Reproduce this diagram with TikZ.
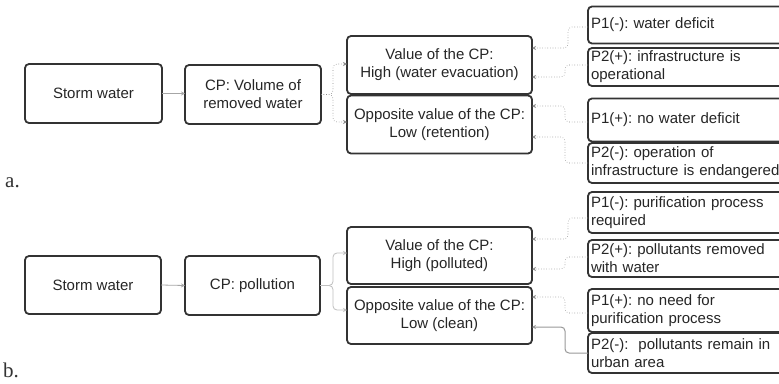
\documentclass[tikz,border=0pt]{standalone}
\usepackage{fontspec}
\setmainfont{Liberation Sans}
\newfontfamily\labelserif{Liberation Serif}
\usetikzlibrary{arrows.meta}
\frenchspacing
\begin{document}
\begin{tikzpicture}[x=1pt,y=-1pt,
  box/.style={draw=black!80, line width=1.8pt, rounded corners=4pt, fill=white,
    inner sep=2pt, outer sep=0pt, align=center, text=black!85,
    font=\fontsize{15}{18}\selectfont},
  pbox/.style={box, align=left, minimum width=210, text width=204, anchor=west},
  conn/.style={draw=black!45, line width=0.6pt, dotted, rounded corners=4pt,
    -{Stealth[length=4pt,width=4pt,open]}},
  sconn/.style={draw=black!35, line width=0.8pt, rounded corners=4pt,
    -{Stealth[length=4pt,width=4pt]}},
  figlab/.style={font=\labelserif\fontsize{21}{24}\selectfont, anchor=base west, inner sep=0pt, text=black!80}
]
\useasboundingbox (0,0) rectangle (779,383);
\clip (0,0) rectangle (779,383);
\fill[white] (0,0) rectangle (779,383);

% ---------------- part a ----------------
\node[box, minimum width=137, minimum height=59] (swa) at (93.5,93.5) {Storm water};
\node[box, minimum width=136, minimum height=59] (cpa) at (253,94.5) {CP: Volume of\\removed water};
\node[box, minimum width=185, minimum height=58] (va) at (439.5,65) {Value of the CP:\\High (water evacuation)};
\node[box, minimum width=185, minimum height=58] (oa) at (439.5,124.5) {Opposite value of the CP:\\Low (retention)};
\node[pbox, minimum height=37] (a11) at (588,25) {P1(-): water deficit};
\node[pbox, minimum height=38] (a12) at (588,67) {P2(+): infrastructure is\\operational};
\node[pbox, minimum height=43] (a21) at (588,120) {P1(+): no water deficit};
\node[pbox, minimum height=40] (a22) at (588,163) {P2(-): operation of\\infrastructure is endangered};
\node[figlab] (la) at (5,187) {a.};

\draw[sconn] (swa.east) -- (swa.east -| cpa.west);
\coordinate (ja) at (333,94.5);
\draw[conn] (cpa.east) -- (ja) |- (va.west |- 0,64);
\draw[conn] (cpa.east) -- (ja) |- (oa.west |- 0,122);
\draw[conn] (a11.west |- 0,27) -| (568,48) -- (va.east |- 0,48);
\draw[conn] (a12.west |- 0,65) -| (565,77) -- (va.east |- 0,77);
\draw[conn] (a21.west |- 0,122) -| (565,106) -- (oa.east |- 0,106);
\draw[conn] (a22.west |- 0,163) -| (565,137) -- (oa.east |- 0,137);

% ---------------- part b ----------------
\node[box, minimum width=136, minimum height=58] (swb) at (93,285) {Storm water};
\node[box, minimum width=135, minimum height=59] (cpb) at (252.5,285.5) {CP: pollution};
\node[box, minimum width=185, minimum height=57] (vb) at (439.5,255.5) {Value of the CP:\\High (polluted)};
\node[box, minimum width=185, minimum height=57] (ob) at (439.5,315.5) {Opposite value of the CP:\\Low (clean)};
\node[pbox, minimum height=41] (b11) at (588,212.5) {P1(-): purification process\\required};
\node[pbox, minimum height=37] (b12) at (588,258.5) {P2(+): pollutants removed\\with water};
\node[pbox, minimum height=43] (b21) at (588,310.5) {P1(+): no need for\\purification process};
\node[pbox, minimum height=40] (b22) at (588,353) {P2(-):\ \ pollutants remain in\\urban area};
\node[figlab] (lb) at (3,377) {b.};

\draw[sconn] (swb.east) -- (cpb.west);
\coordinate (jb) at (333,285.5);
\draw[sconn, draw=black!25] (cpb.east) -- (jb) |- (vb.west |- 0,253);
\draw[sconn, draw=black!25] (cpb.east) -- (jb) |- (ob.west |- 0,310);
\draw[conn] (b11.west |- 0,218) -| (568,239) -- (vb.east |- 0,239);
\draw[conn] (b12.west |- 0,257) -| (565,269) -- (vb.east |- 0,269);
\draw[conn] (b21.west |- 0,313) -| (565,297) -- (ob.east |- 0,297);
\draw[sconn, draw=black!40, line width=1pt] (b22.west |- 0,353) -| (565,327) -- (ob.east |- 0,327);
\end{tikzpicture}
\end{document}
